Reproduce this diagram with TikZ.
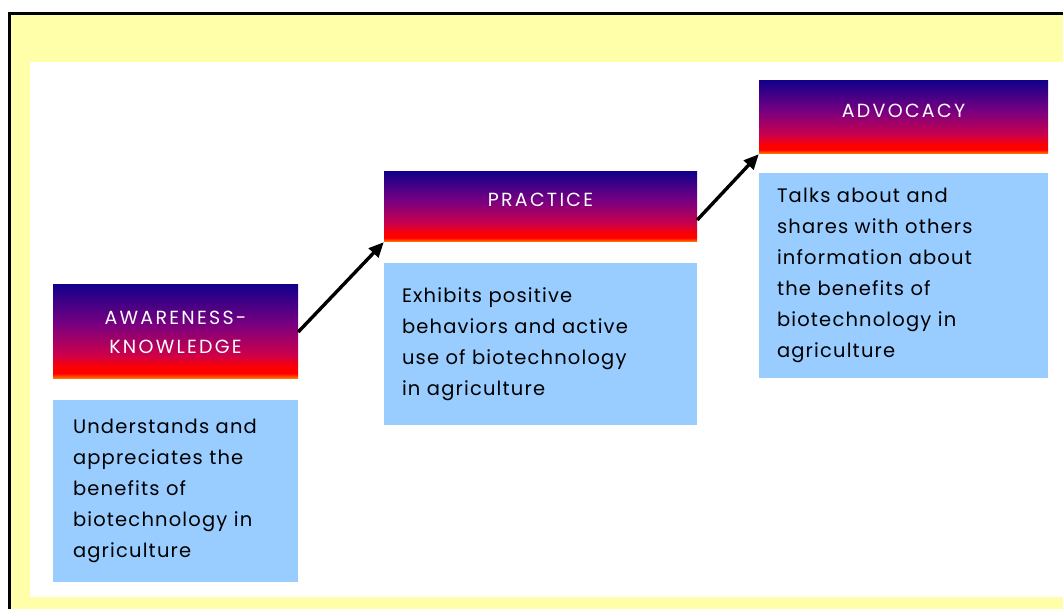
\documentclass[tikz,border=0pt]{standalone}
\usepackage{fontspec}
\setmainfont{Poppins}[LetterSpace=6]
\newfontfamily\hdrfont{Poppins}[LetterSpace=12]
\usepackage{xcolor}
\usepackage{tikz}
\usetikzlibrary{arrows.meta,positioning}
\definecolor{bgyellow}{HTML}{FFFFAA}
\definecolor{boxblue}{HTML}{99CCFF}
\definecolor{hdrnavy}{HTML}{14008A}
\definecolor{hdrpurple}{HTML}{7A0080}
\definecolor{hdrcrimson}{HTML}{CC004C}
\definecolor{hdrred}{HTML}{FF0000}
\definecolor{hdrorange}{HTML}{FF8C00}
\pgfdeclareverticalshading{hdrshade}{100bp}{color(0bp)=(hdrorange); color(25bp)=(hdrorange);
  color(28bp)=(hdrred); color(31bp)=(hdrred); color(38bp)=(hdrcrimson);
  color(54bp)=(hdrpurple); color(75bp)=(hdrnavy); color(100bp)=(hdrnavy)}

\begin{document}
\begin{tikzpicture}[
    x=1pt, y=1pt,
    node distance=21pt,
    header/.style={rectangle, shading=hdrshade, text=white, font=\hdrfont\fontsize{19}{29}\selectfont,
                   align=center, inner sep=0pt},
    infobox/.style={rectangle, fill=boxblue, font=\fontsize{19.5}{31}\selectfont,
                    align=left, inner xsep=20pt, inner ysep=0pt, anchor=north},
    arr/.style={-{Triangle[length=15pt, width=13pt]}, line width=3.4pt},
]
    \useasboundingbox (0,0) rectangle (1063,608);
    \clip (0,0) rectangle (1063,608);
    % frame and page
    \draw[line width=3pt, fill=bgyellow] (9.5,-20) rectangle (1100,594.5);
    \fill[white] (30,11) rectangle (1100,546);

    % stages
    \node[header, minimum width=245pt, minimum height=94pt] (h1) at (175.5,276) {AWARENESS-\\KNOWLEDGE};
    \node[header, minimum width=313pt, minimum height=70pt, text depth=14pt] (h2) at (540.5,401) {PRACTICE};
    \node[header, minimum width=289pt, minimum height=73pt, text depth=14pt] (h3) at (903.5,490.5) {ADVOCACY};

    \node[infobox, text width=205pt, minimum height=182pt, below=of h1] (b1)
        {Understands and\\appreciates the\\benefits of\\biotechnology in\\agriculture};
    \node[infobox, text width=277pt, minimum height=162pt, below=of h2, inner xsep=18pt] (b2)
        {Exhibits positive\\behaviors and active\\use of biotechnology\\in agriculture};
    \node[infobox, text width=253pt, minimum height=205pt, below=19pt of h3, inner xsep=18pt] (b3)
        {Talks about and\\shares with others\\information about\\the benefits of\\biotechnology in\\agriculture};

    \draw[arr] (h1.east) -- (h2.south west);
    \draw[arr] ([yshift=-13pt]h2.east) -- (h3.south west);
\end{tikzpicture}
\end{document}
